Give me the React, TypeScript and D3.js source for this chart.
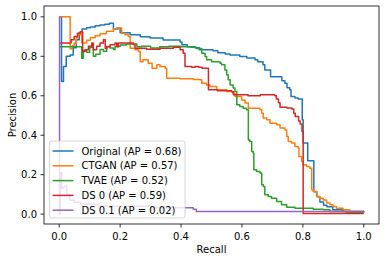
import React from "react";
import * as d3 from "d3";

const original: [number, number][] = [[0,1.0],[0.0075,0.672],[0.014,0.748],[0.023,0.80],[0.036,0.807],[0.046,0.843],[0.056,0.884],[0.066,0.919],[0.075,0.939],[0.09,0.945],[0.102,0.949],[0.118,0.955],[0.134,0.959],[0.15,0.963],[0.165,0.968],[0.178,0.939],[0.193,0.944],[0.2,0.919],[0.233,0.909],[0.266,0.899],[0.298,0.893],[0.341,0.883],[0.397,0.873],[0.403,0.858],[0.42,0.848],[0.446,0.843],[0.46,0.833],[0.505,0.828],[0.521,0.818],[0.545,0.812],[0.561,0.807],[0.593,0.799],[0.616,0.792],[0.643,0.782],[0.652,0.772],[0.669,0.757],[0.675,0.731],[0.694,0.697],[0.731,0.676],[0.741,0.664],[0.748,0.64],[0.757,0.63],[0.761,0.596],[0.774,0.589],[0.785,0.584],[0.798,0.478],[0.801,0.361],[0.816,0.27],[0.836,0.113],[0.846,0.088],[0.856,0.062],[0.868,0.045],[0.879,0.037],[0.898,0.022],[0.931,0.013],[1.0,0.009]];
const ctgan: [number, number][] = [[0,1.0],[0.036,0.838],[0.043,0.853],[0.049,0.868],[0.056,0.894],[0.062,0.909],[0.069,0.919],[0.074,0.868],[0.09,0.882],[0.102,0.894],[0.118,0.904],[0.134,0.914],[0.155,0.927],[0.178,0.938],[0.187,0.943],[0.205,0.917],[0.216,0.909],[0.227,0.9],[0.233,0.841],[0.249,0.833],[0.26,0.824],[0.266,0.773],[0.275,0.782],[0.292,0.765],[0.305,0.74],[0.321,0.757],[0.331,0.748],[0.348,0.74],[0.353,0.689],[0.397,0.686],[0.44,0.683],[0.462,0.681],[0.468,0.664],[0.484,0.655],[0.495,0.647],[0.517,0.63],[0.55,0.621],[0.57,0.613],[0.577,0.596],[0.599,0.579],[0.61,0.563],[0.621,0.537],[0.648,0.537],[0.659,0.529],[0.665,0.512],[0.67,0.487],[0.681,0.478],[0.692,0.461],[0.714,0.453],[0.725,0.436],[0.741,0.427],[0.747,0.393],[0.752,0.368],[0.763,0.36],[0.774,0.343],[0.785,0.335],[0.787,0.292],[0.796,0.267],[0.801,0.25],[0.812,0.241],[0.823,0.233],[0.829,0.123],[0.834,0.115],[0.845,0.089],[0.856,0.081],[0.867,0.072],[0.878,0.056],[0.889,0.047],[0.899,0.039],[0.91,0.03],[0.932,0.022],[0.954,0.013],[1.0,0.008]];
const tvae: [number, number][] = [[0,0.849],[0.074,0.79],[0.079,0.83],[0.09,0.82],[0.1,0.845],[0.112,0.80],[0.12,0.81],[0.134,0.835],[0.145,0.826],[0.156,0.85],[0.167,0.842],[0.178,0.835],[0.183,0.85],[0.2,0.857],[0.22,0.862],[0.24,0.862],[0.255,0.849],[0.27,0.851],[0.3,0.842],[0.33,0.849],[0.36,0.851],[0.4,0.849],[0.43,0.846],[0.45,0.84],[0.462,0.84],[0.468,0.816],[0.479,0.799],[0.484,0.782],[0.5,0.773],[0.517,0.773],[0.528,0.765],[0.533,0.757],[0.544,0.731],[0.55,0.706],[0.555,0.681],[0.561,0.655],[0.571,0.639],[0.577,0.621],[0.583,0.554],[0.593,0.545],[0.604,0.537],[0.615,0.529],[0.621,0.376],[0.626,0.368],[0.632,0.317],[0.637,0.309],[0.639,0.225],[0.648,0.216],[0.659,0.208],[0.665,0.149],[0.67,0.14],[0.675,0.098],[0.686,0.089],[0.697,0.081],[0.714,0.064],[0.73,0.047],[0.747,0.035],[0.774,0.03],[0.834,0.025],[0.867,0.022],[0.889,0.013],[0.943,0.008],[1.0,0.008]];
const ds0: [number, number][] = [[0,0.867],[0.039,0.884],[0.049,0.9],[0.06,0.917],[0.069,0.925],[0.077,0.824],[0.085,0.833],[0.096,0.851],[0.107,0.867],[0.112,0.833],[0.123,0.851],[0.134,0.867],[0.145,0.884],[0.151,0.84],[0.156,0.849],[0.167,0.858],[0.183,0.867],[0.189,0.849],[0.194,0.867],[0.227,0.867],[0.244,0.858],[0.249,0.841],[0.287,0.836],[0.331,0.841],[0.375,0.846],[0.397,0.833],[0.407,0.816],[0.413,0.748],[0.435,0.745],[0.446,0.748],[0.458,0.745],[0.469,0.74],[0.49,0.63],[0.52,0.625],[0.566,0.62],[0.572,0.605],[0.62,0.6],[0.66,0.605],[0.708,0.6],[0.713,0.583],[0.72,0.565],[0.725,0.542],[0.748,0.538],[0.764,0.533],[0.77,0.512],[0.775,0.495],[0.786,0.472],[0.791,0.457],[0.797,0.42],[0.801,0.003],[1.0,0.003]];
const ds01: [number, number][] = [[0,1.0],[0.001,0.0],[0.003,0.21],[0.008,0.13],[0.015,0.14],[0.025,0.10],[0.035,0.07],[0.05,0.06],[0.07,0.05],[0.13,0.04],[0.3,0.032],[0.44,0.025],[0.45,0.013],[1.0,0.01]];

const seriesNames = ["Original (AP = 0.68)", "CTGAN (AP = 0.57)", "TVAE (AP = 0.52)", "DS 0 (AP = 0.59)", "DS 0.1 (AP = 0.02)"];
const seriesData = [original, ctgan, tvae, ds0, ds01];
const colors = ["#1f77b4", "#ff7f0e", "#2ca02c", "#d62728", "#9467bd"];
const xTicks = [0, 0.2, 0.4, 0.6, 0.8, 1.0];
const yTicks = [0, 0.2, 0.4, 0.6, 0.8, 1.0];

export default function App() {
  const W = 386, H = 262;
  const L = 44, R = 379, T = 6, B = 224;
  const x = d3.scaleLinear().domain([-0.05, 1.05]).range([L, R]);
  const y = d3.scaleLinear().domain([-0.05, 1.055]).range([B, T]);
  const line = d3.line<[number, number]>().x(d => x(d[0])).y(d => y(d[1])).curve(d3.curveStepAfter);
  const font = "DejaVu Sans, sans-serif";
  const lx = 49.5, ly = 141, lw = 135.5, lh = 77;
  return (
    <svg width={W} height={H} style={{ position: "absolute", left: 0, top: 0 }} fontFamily={font}>
      <rect width={W} height={H} fill="white" />
      <defs>
        <clipPath id="clip"><rect x={L} y={T} width={R - L} height={B - T} /></clipPath>
      </defs>
      <g clipPath="url(#clip)">
        {seriesData.map((s, i) => (
          <path key={i} d={line(s) || ""} fill="none" stroke={colors[i]} strokeWidth={1.5} strokeLinejoin="round" />
        ))}
      </g>
      <rect x={L} y={T} width={R - L} height={B - T} fill="none" stroke="black" strokeWidth={0.8} />
      {xTicks.map(t => (
        <g key={"x" + t}>
          <line x1={x(t)} x2={x(t)} y1={B} y2={B + 3.5} stroke="black" strokeWidth={0.8} />
          <text x={x(t)} y={B + 15.5} fontSize={10} textAnchor="middle" fill="black">{t.toFixed(1)}</text>
        </g>
      ))}
      {yTicks.map(t => (
        <g key={"y" + t}>
          <line x1={L - 3.5} x2={L} y1={y(t)} y2={y(t)} stroke="black" strokeWidth={0.8} />
          <text x={L - 7} y={y(t) + 3.6} fontSize={10} textAnchor="end" fill="black">{t.toFixed(1)}</text>
        </g>
      ))}
      <text x={(L + R) / 2} y={252.5} fontSize={10} textAnchor="middle" fill="black">Recall</text>
      <text transform={`translate(15.5, ${(T + B) / 2}) rotate(-90)`} fontSize={10} textAnchor="middle" fill="black">Precision</text>
      <rect x={lx} y={ly} width={lw} height={lh} rx={2} fill="white" fillOpacity={0.8} stroke="#cccccc" strokeWidth={0.8} />
      {seriesNames.map((n, i) => (
        <g key={n}>
          <line x1={lx + 3} x2={lx + 24} y1={ly + 10 + i * 14.8} y2={ly + 10 + i * 14.8} stroke={colors[i]} strokeWidth={1.5} />
          <text x={lx + 32} y={ly + 13.6 + i * 14.8} fontSize={10} fill="black">{n}</text>
        </g>
      ))}
    </svg>
  );
}
